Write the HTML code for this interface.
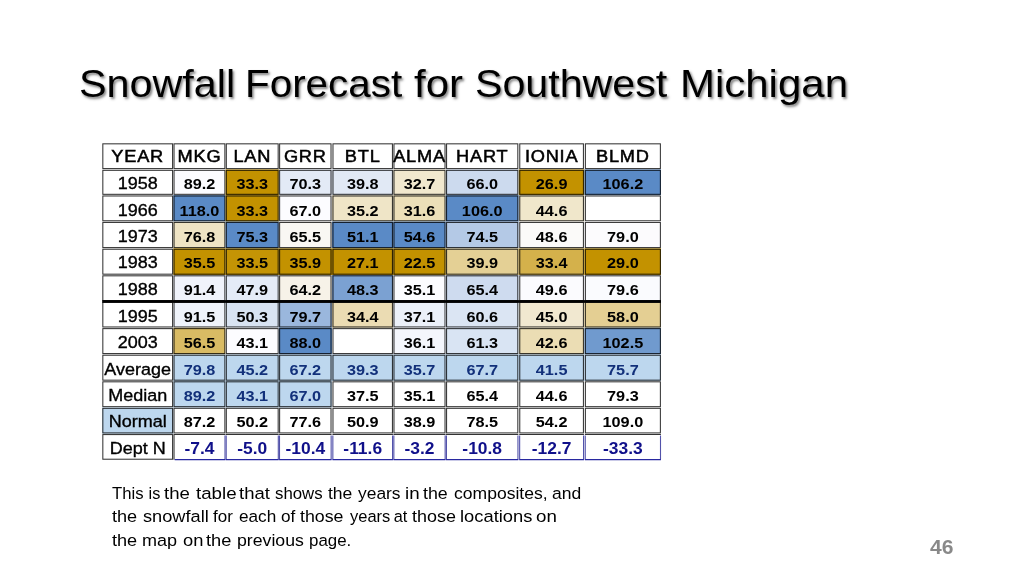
<!DOCTYPE html>
<html lang="en"><head><meta charset="utf-8"><title>Snowfall Forecast for Southwest Michigan</title>
<style>
html,body{margin:0;padding:0;background:#fff;}
body{will-change:transform;width:1024px;height:576px;position:relative;overflow:hidden;font-family:"Liberation Sans",sans-serif;color:#000;}
h1{position:absolute;margin:0;left:0;top:56px;width:1024px;height:56px;font-weight:400;font-size:38.6px;line-height:56px;white-space:nowrap;
   color:#000;text-shadow:1.5px 2px 2.5px rgba(0,0,0,0.5);}
h1 span,p span{position:absolute;top:0;transform-origin:0 50%;}
svg{position:absolute;left:0;top:0;}
svg text{font-family:"Liberation Sans",sans-serif;text-anchor:middle;fill:#000;}
.b{fill:none;stroke:#000;stroke-opacity:.8;stroke-width:1.05;}
.bd{fill:none;stroke:#5252aa;stroke-width:1.1;}
.bb{fill:none;stroke:#2828a0;stroke-width:1.1;}
.h{font-size:17px;letter-spacing:.7px;stroke:#000;stroke-width:.5px;}
.y{font-size:17px;stroke:#000;stroke-width:.35px;}
.d{font-size:15.2px;font-weight:700;}
.n{fill:#12307A;}
.dn{font-size:17px;font-weight:700;fill:#10108A;}
p{position:absolute;margin:0;left:0;width:1024px;height:24px;font-size:16.3px;line-height:24px;white-space:nowrap;color:#000;}
.pg{position:absolute;left:929.5px;top:536.5px;font-size:19.5px;transform:scaleX(1.08);font-weight:700;color:#898989;line-height:20px;transform-origin:0 50%;}
</style></head><body>
<h1><span style="left:78.73px;transform:scaleX(1.071)">Snowfall</span> <span style="left:244.56px;transform:scaleX(1.047)">Forecast</span> <span style="left:413.75px;transform:scaleX(1.088)">for</span> <span style="left:474.53px;transform:scaleX(1.067)">Southwest</span> <span style="left:680.13px;transform:scaleX(1.088)">Michigan</span></h1>
<svg width="1024" height="576" viewBox="0 0 1024 576">
<g>
<rect class="b" x="102.83" y="143.83" width="69.75" height="24.75"/>
<rect class="b" x="174.03" y="143.83" width="50.85" height="24.75"/>
<rect class="b" x="226.32" y="143.83" width="51.85" height="24.75"/>
<rect class="b" x="279.62" y="143.83" width="51.4" height="24.75"/>
<rect class="b" x="332.98" y="143.83" width="59.45" height="24.75"/>
<rect class="b" x="393.97" y="143.83" width="51.05" height="24.75"/>
<rect class="b" x="446.57" y="143.83" width="71.25" height="24.75"/>
<rect class="b" x="519.77" y="143.83" width="63.65" height="24.75"/>
<rect class="b" x="585.38" y="143.83" width="75" height="24.75"/>
</g>
<g>
<rect class="b" x="102.83" y="170.32" width="69.75" height="24"/>
<rect x="173.3" y="169.45" width="52.3" height="25.7" fill="#FCFCFF"/><rect class="b" x="174.03" y="170.32" width="50.85" height="24"/>
<rect x="225.6" y="169.45" width="53.3" height="25.7" fill="#C39200"/><rect class="b" x="226.32" y="170.32" width="51.85" height="24"/>
<rect x="278.9" y="169.45" width="53.1" height="25.7" fill="#E3EAF6"/><rect class="b" x="279.62" y="170.32" width="51.4" height="24"/>
<rect x="332" y="169.45" width="61.2" height="25.7" fill="#E1E9F5"/><rect class="b" x="332.98" y="170.32" width="59.45" height="24"/>
<rect x="393.2" y="169.45" width="52.6" height="25.7" fill="#F1E8CE"/><rect class="b" x="393.97" y="170.32" width="51.05" height="24"/>
<rect x="445.8" y="169.45" width="73" height="25.7" fill="#CCDAEE"/><rect class="b" x="446.57" y="170.32" width="71.25" height="24"/>
<rect x="518.8" y="169.45" width="65.6" height="25.7" fill="#C39200"/><rect class="b" x="519.77" y="170.32" width="63.65" height="24"/>
<rect x="584.4" y="169.45" width="76.6" height="25.7" fill="#5A8AC6"/><rect class="b" x="585.38" y="170.32" width="75" height="24"/>
</g>
<g>
<rect class="b" x="102.83" y="195.98" width="69.75" height="24.8"/>
<rect x="173.3" y="195.15" width="52.3" height="26.45" fill="#5A8AC6"/><rect class="b" x="174.03" y="195.98" width="50.85" height="24.8"/>
<rect x="225.6" y="195.15" width="53.3" height="26.45" fill="#C39200"/><rect class="b" x="226.32" y="195.98" width="51.85" height="24.8"/>
<rect x="278.9" y="195.15" width="53.1" height="26.45" fill="#FCFCFF"/><rect class="b" x="279.62" y="195.98" width="51.4" height="24.8"/>
<rect x="332" y="195.15" width="61.2" height="26.45" fill="#EFE5C7"/><rect class="b" x="332.98" y="195.98" width="59.45" height="24.8"/>
<rect x="393.2" y="195.15" width="52.6" height="26.45" fill="#ECDFB8"/><rect class="b" x="393.97" y="195.98" width="51.05" height="24.8"/>
<rect x="445.8" y="195.15" width="73" height="26.45" fill="#5A8AC6"/><rect class="b" x="446.57" y="195.98" width="71.25" height="24.8"/>
<rect x="518.8" y="195.15" width="65.6" height="26.45" fill="#F0E7CB"/><rect class="b" x="519.77" y="195.98" width="63.65" height="24.8"/>
<rect class="b" x="585.38" y="195.98" width="75" height="24.8"/>
</g>
<g>
<rect class="b" x="102.83" y="222.43" width="69.75" height="25.15"/>
<rect x="173.3" y="221.6" width="52.3" height="26.8" fill="#EFE4C4"/><rect class="b" x="174.03" y="222.43" width="50.85" height="25.15"/>
<rect x="225.6" y="221.6" width="53.3" height="26.8" fill="#5A8AC6"/><rect class="b" x="226.32" y="222.43" width="51.85" height="25.15"/>
<rect x="278.9" y="221.6" width="53.1" height="26.8" fill="#F9F7F3"/><rect class="b" x="279.62" y="222.43" width="51.4" height="25.15"/>
<rect x="332" y="221.6" width="61.2" height="26.8" fill="#5A8AC6"/><rect class="b" x="332.98" y="222.43" width="59.45" height="25.15"/>
<rect x="393.2" y="221.6" width="52.6" height="26.8" fill="#5A8AC6"/><rect class="b" x="393.97" y="222.43" width="51.05" height="25.15"/>
<rect x="445.8" y="221.6" width="73" height="26.8" fill="#B4C9E6"/><rect class="b" x="446.57" y="222.43" width="71.25" height="25.15"/>
<rect x="518.8" y="221.6" width="65.6" height="26.8" fill="#FBFAF9"/><rect class="b" x="519.77" y="222.43" width="63.65" height="25.15"/>
<rect x="584.4" y="221.6" width="76.6" height="26.8" fill="#FCFBFD"/><rect class="b" x="585.38" y="222.43" width="75" height="25.15"/>
</g>
<g>
<rect class="b" x="102.83" y="249.23" width="69.75" height="24.95"/>
<rect x="173.3" y="248.4" width="52.3" height="26.6" fill="#C39200"/><rect class="b" x="174.03" y="249.23" width="50.85" height="24.95"/>
<rect x="225.6" y="248.4" width="53.3" height="26.6" fill="#C49405"/><rect class="b" x="226.32" y="249.23" width="51.85" height="24.95"/>
<rect x="278.9" y="248.4" width="53.1" height="26.6" fill="#C39200"/><rect class="b" x="279.62" y="249.23" width="51.4" height="24.95"/>
<rect x="332" y="248.4" width="61.2" height="26.6" fill="#C39200"/><rect class="b" x="332.98" y="249.23" width="59.45" height="24.95"/>
<rect x="393.2" y="248.4" width="52.6" height="26.6" fill="#C39200"/><rect class="b" x="393.97" y="249.23" width="51.05" height="24.95"/>
<rect x="445.8" y="248.4" width="73" height="26.6" fill="#E4D095"/><rect class="b" x="446.57" y="249.23" width="71.25" height="24.95"/>
<rect x="518.8" y="248.4" width="65.6" height="26.6" fill="#D4B14B"/><rect class="b" x="519.77" y="249.23" width="63.65" height="24.95"/>
<rect x="584.4" y="248.4" width="76.6" height="26.6" fill="#C39200"/><rect class="b" x="585.38" y="249.23" width="75" height="24.95"/>
</g>
<g>
<rect class="b" x="102.83" y="275.82" width="69.75" height="24.75"/>
<rect x="173.3" y="275" width="52.3" height="26.4" fill="#F0F3FB"/><rect class="b" x="174.03" y="275.82" width="50.85" height="24.75"/>
<rect x="225.6" y="275" width="53.3" height="26.4" fill="#E4EBF7"/><rect class="b" x="226.32" y="275.82" width="51.85" height="24.75"/>
<rect x="278.9" y="275" width="53.1" height="26.4" fill="#F7F2E8"/><rect class="b" x="279.62" y="275.82" width="51.4" height="24.75"/>
<rect x="332" y="275" width="61.2" height="26.4" fill="#7BA1D2"/><rect class="b" x="332.98" y="275.82" width="59.45" height="24.75"/>
<rect x="393.2" y="275" width="52.6" height="26.4" fill="#FCFCFF"/><rect class="b" x="393.97" y="275.82" width="51.05" height="24.75"/>
<rect x="445.8" y="275" width="73" height="26.4" fill="#CEDBEF"/><rect class="b" x="446.57" y="275.82" width="71.25" height="24.75"/>
<rect x="518.8" y="275" width="65.6" height="26.4" fill="#FBFBFE"/><rect class="b" x="519.77" y="275.82" width="63.65" height="24.75"/>
<rect x="584.4" y="275" width="76.6" height="26.4" fill="#FAFBFE"/><rect class="b" x="585.38" y="275.82" width="75" height="24.75"/>
</g>
<g>
<rect class="b" x="102.83" y="302.22" width="69.75" height="24.75"/>
<rect x="173.3" y="301.4" width="52.3" height="26.4" fill="#EFF3FA"/><rect class="b" x="174.03" y="302.22" width="50.85" height="24.75"/>
<rect x="225.6" y="301.4" width="53.3" height="26.4" fill="#D8E3F2"/><rect class="b" x="226.32" y="302.22" width="51.85" height="24.75"/>
<rect x="278.9" y="301.4" width="53.1" height="26.4" fill="#9AB7DD"/><rect class="b" x="279.62" y="302.22" width="51.4" height="24.75"/>
<rect x="332" y="301.4" width="61.2" height="26.4" fill="#EBDCB3"/><rect class="b" x="332.98" y="302.22" width="59.45" height="24.75"/>
<rect x="393.2" y="301.4" width="52.6" height="26.4" fill="#EBF0F9"/><rect class="b" x="393.97" y="302.22" width="51.05" height="24.75"/>
<rect x="445.8" y="301.4" width="73" height="26.4" fill="#DBE5F3"/><rect class="b" x="446.57" y="302.22" width="71.25" height="24.75"/>
<rect x="518.8" y="301.4" width="65.6" height="26.4" fill="#F1E8D0"/><rect class="b" x="519.77" y="302.22" width="63.65" height="24.75"/>
<rect x="584.4" y="301.4" width="76.6" height="26.4" fill="#E4CF93"/><rect class="b" x="585.38" y="302.22" width="75" height="24.75"/>
</g>
<g>
<rect class="b" x="102.83" y="328.62" width="69.75" height="24.95"/>
<rect x="173.3" y="327.8" width="52.3" height="26.6" fill="#D9BB64"/><rect class="b" x="174.03" y="328.62" width="50.85" height="24.95"/>
<rect x="225.6" y="327.8" width="53.3" height="26.6" fill="#FCFCFF"/><rect class="b" x="226.32" y="328.62" width="51.85" height="24.95"/>
<rect x="278.9" y="327.8" width="53.1" height="26.6" fill="#5A8AC6"/><rect class="b" x="279.62" y="328.62" width="51.4" height="24.95"/>
<rect class="b" x="332.98" y="328.62" width="59.45" height="24.95"/>
<rect x="393.2" y="327.8" width="52.6" height="26.6" fill="#F4F6FC"/><rect class="b" x="393.97" y="328.62" width="51.05" height="24.95"/>
<rect x="445.8" y="327.8" width="73" height="26.6" fill="#D9E4F3"/><rect class="b" x="446.57" y="328.62" width="71.25" height="24.95"/>
<rect x="518.8" y="327.8" width="65.6" height="26.6" fill="#EBDDB4"/><rect class="b" x="519.77" y="328.62" width="63.65" height="24.95"/>
<rect x="584.4" y="327.8" width="76.6" height="26.6" fill="#709ACE"/><rect class="b" x="585.38" y="328.62" width="75" height="24.95"/>
</g>
<g>
<rect class="b" x="102.83" y="355.22" width="69.75" height="24.95"/>
<rect x="173.3" y="354.4" width="52.3" height="26.6" fill="#BDD7EE"/><rect class="b" x="174.03" y="355.22" width="50.85" height="24.95"/>
<rect x="225.6" y="354.4" width="53.3" height="26.6" fill="#BDD7EE"/><rect class="b" x="226.32" y="355.22" width="51.85" height="24.95"/>
<rect x="278.9" y="354.4" width="53.1" height="26.6" fill="#BDD7EE"/><rect class="b" x="279.62" y="355.22" width="51.4" height="24.95"/>
<rect x="332" y="354.4" width="61.2" height="26.6" fill="#BDD7EE"/><rect class="b" x="332.98" y="355.22" width="59.45" height="24.95"/>
<rect x="393.2" y="354.4" width="52.6" height="26.6" fill="#BDD7EE"/><rect class="b" x="393.97" y="355.22" width="51.05" height="24.95"/>
<rect x="445.8" y="354.4" width="73" height="26.6" fill="#BDD7EE"/><rect class="b" x="446.57" y="355.22" width="71.25" height="24.95"/>
<rect x="518.8" y="354.4" width="65.6" height="26.6" fill="#BDD7EE"/><rect class="b" x="519.77" y="355.22" width="63.65" height="24.95"/>
<rect x="584.4" y="354.4" width="76.6" height="26.6" fill="#BDD7EE"/><rect class="b" x="585.38" y="355.22" width="75" height="24.95"/>
</g>
<g>
<rect class="b" x="102.83" y="381.82" width="69.75" height="24.85"/>
<rect x="173.3" y="381" width="52.3" height="26.5" fill="#BDD7EE"/><rect class="b" x="174.03" y="381.82" width="50.85" height="24.85"/>
<rect x="225.6" y="381" width="53.3" height="26.5" fill="#BDD7EE"/><rect class="b" x="226.32" y="381.82" width="51.85" height="24.85"/>
<rect x="278.9" y="381" width="53.1" height="26.5" fill="#BDD7EE"/><rect class="b" x="279.62" y="381.82" width="51.4" height="24.85"/>
<rect class="b" x="332.98" y="381.82" width="59.45" height="24.85"/>
<rect class="b" x="393.97" y="381.82" width="51.05" height="24.85"/>
<rect class="b" x="446.57" y="381.82" width="71.25" height="24.85"/>
<rect class="b" x="519.77" y="381.82" width="63.65" height="24.85"/>
<rect class="b" x="585.38" y="381.82" width="75" height="24.85"/>
</g>
<g>
<rect x="102.2" y="407.5" width="71.1" height="26.25" fill="#BDD7EE"/><rect class="b" x="102.83" y="408.32" width="69.75" height="24.6"/>
<rect class="b" x="174.03" y="408.32" width="50.85" height="24.6"/>
<rect class="b" x="226.32" y="408.32" width="51.85" height="24.6"/>
<rect class="b" x="279.62" y="408.32" width="51.4" height="24.6"/>
<rect class="b" x="332.98" y="408.32" width="59.45" height="24.6"/>
<rect class="b" x="393.97" y="408.32" width="51.05" height="24.6"/>
<rect class="b" x="446.57" y="408.32" width="71.25" height="24.6"/>
<rect class="b" x="519.77" y="408.32" width="63.65" height="24.6"/>
<rect class="b" x="585.38" y="408.32" width="75" height="24.6"/>
</g>
<g>
<rect class="b" x="102.83" y="434.57" width="69.75" height="24.65"/>
<path class="b" d="M173.5 434.57H225.4M174.03 435.1V459.75"/><path class="bd" d="M225 435.45V459.6"/><path class="bb" d="M174.7 459.6H225.4"/>
<path class="b" d="M225.8 434.57H278.7"/><path class="bd" d="M278.3 435.45V459.6M226.2 435.45V459.6"/><path class="bb" d="M225.8 459.6H278.7"/>
<path class="b" d="M279.1 434.57H331.55"/><path class="bd" d="M331.15 435.45V459.6M279.5 435.45V459.6"/><path class="bb" d="M279.1 459.6H331.55"/>
<path class="b" d="M332.45 434.57H392.95"/><path class="bd" d="M392.55 435.45V459.6M332.85 435.45V459.6"/><path class="bb" d="M332.45 459.6H392.95"/>
<path class="b" d="M393.45 434.57H445.55"/><path class="bd" d="M445.15 435.45V459.6M393.85 435.45V459.6"/><path class="bb" d="M393.45 459.6H445.55"/>
<path class="b" d="M446.05 434.57H518.35"/><path class="bd" d="M517.95 435.45V459.6M446.45 435.45V459.6"/><path class="bb" d="M446.05 459.6H518.35"/>
<path class="b" d="M519.25 434.57H583.95"/><path class="bd" d="M583.55 435.45V459.6M519.65 435.45V459.6"/><path class="bb" d="M519.25 459.6H583.95"/>
<path class="b" d="M584.85 434.57H660.9"/><path class="bd" d="M660.5 435.45V459.6M585.25 435.45V459.6"/><path class="bb" d="M584.85 459.6H660.9"/>
</g>
<rect x="102.2" y="300.1" width="558.8" height="2.75" fill="#000"/>
<g>
<text class="h" transform="translate(137.7 162.3) scale(1.073 1)">YEAR</text>
<text class="h" transform="translate(199.45 162.3) scale(1.073 1)">MKG</text>
<text class="h" transform="translate(252.25 162.3) scale(1.073 1)">LAN</text>
<text class="h" transform="translate(305.32 162.3) scale(1.073 1)">GRR</text>
<text class="h" transform="translate(362.7 162.3) scale(1.073 1)">BTL</text>
<text class="h" transform="translate(419.5 162.3) scale(1.073 1)">ALMA</text>
<text class="h" transform="translate(482.2 162.3) scale(1.073 1)">HART</text>
<text class="h" transform="translate(551.6 162.3) scale(1.073 1)">IONIA</text>
<text class="h" transform="translate(622.88 162.3) scale(1.073 1)">BLMD</text>
<text class="y" transform="translate(137.7 189.1) scale(1.06 1)">1958</text>
<text class="d" transform="translate(199.45 189.1) scale(1.07 1)">89.2</text>
<text class="d" transform="translate(252.25 189.1) scale(1.07 1)">33.3</text>
<text class="d" transform="translate(305.32 189.1) scale(1.07 1)">70.3</text>
<text class="d" transform="translate(362.7 189.1) scale(1.07 1)">39.8</text>
<text class="d" transform="translate(419.5 189.1) scale(1.07 1)">32.7</text>
<text class="d" transform="translate(482.2 189.1) scale(1.07 1)">66.0</text>
<text class="d" transform="translate(551.6 189.1) scale(1.07 1)">26.9</text>
<text class="d" transform="translate(622.88 189.1) scale(1.07 1)">106.2</text>
<text class="y" transform="translate(137.7 215.5) scale(1.06 1)">1966</text>
<text class="d" transform="translate(199.45 215.5) scale(1.07 1)">118.0</text>
<text class="d" transform="translate(252.25 215.5) scale(1.07 1)">33.3</text>
<text class="d" transform="translate(305.32 215.5) scale(1.07 1)">67.0</text>
<text class="d" transform="translate(362.7 215.5) scale(1.07 1)">35.2</text>
<text class="d" transform="translate(419.5 215.5) scale(1.07 1)">31.6</text>
<text class="d" transform="translate(482.2 215.5) scale(1.07 1)">106.0</text>
<text class="d" transform="translate(551.6 215.5) scale(1.07 1)">44.6</text>
<text class="y" transform="translate(137.7 241.5) scale(1.06 1)">1973</text>
<text class="d" transform="translate(199.45 241.5) scale(1.07 1)">76.8</text>
<text class="d" transform="translate(252.25 241.5) scale(1.07 1)">75.3</text>
<text class="d" transform="translate(305.32 241.5) scale(1.07 1)">65.5</text>
<text class="d" transform="translate(362.7 241.5) scale(1.07 1)">51.1</text>
<text class="d" transform="translate(419.5 241.5) scale(1.07 1)">54.6</text>
<text class="d" transform="translate(482.2 241.5) scale(1.07 1)">74.5</text>
<text class="d" transform="translate(551.6 241.5) scale(1.07 1)">48.6</text>
<text class="d" transform="translate(622.88 241.5) scale(1.07 1)">79.0</text>
<text class="y" transform="translate(137.7 267.9) scale(1.06 1)">1983</text>
<text class="d" transform="translate(199.45 267.9) scale(1.07 1)">35.5</text>
<text class="d" transform="translate(252.25 267.9) scale(1.07 1)">33.5</text>
<text class="d" transform="translate(305.32 267.9) scale(1.07 1)">35.9</text>
<text class="d" transform="translate(362.7 267.9) scale(1.07 1)">27.1</text>
<text class="d" transform="translate(419.5 267.9) scale(1.07 1)">22.5</text>
<text class="d" transform="translate(482.2 267.9) scale(1.07 1)">39.9</text>
<text class="d" transform="translate(551.6 267.9) scale(1.07 1)">33.4</text>
<text class="d" transform="translate(622.88 267.9) scale(1.07 1)">29.0</text>
<text class="y" transform="translate(137.7 295) scale(1.06 1)">1988</text>
<text class="d" transform="translate(199.45 295) scale(1.07 1)">91.4</text>
<text class="d" transform="translate(252.25 295) scale(1.07 1)">47.9</text>
<text class="d" transform="translate(305.32 295) scale(1.07 1)">64.2</text>
<text class="d" transform="translate(362.7 295) scale(1.07 1)">48.3</text>
<text class="d" transform="translate(419.5 295) scale(1.07 1)">35.1</text>
<text class="d" transform="translate(482.2 295) scale(1.07 1)">65.4</text>
<text class="d" transform="translate(551.6 295) scale(1.07 1)">49.6</text>
<text class="d" transform="translate(622.88 295) scale(1.07 1)">79.6</text>
<text class="y" transform="translate(137.7 321.7) scale(1.06 1)">1995</text>
<text class="d" transform="translate(199.45 321.7) scale(1.07 1)">91.5</text>
<text class="d" transform="translate(252.25 321.7) scale(1.07 1)">50.3</text>
<text class="d" transform="translate(305.32 321.7) scale(1.07 1)">79.7</text>
<text class="d" transform="translate(362.7 321.7) scale(1.07 1)">34.4</text>
<text class="d" transform="translate(419.5 321.7) scale(1.07 1)">37.1</text>
<text class="d" transform="translate(482.2 321.7) scale(1.07 1)">60.6</text>
<text class="d" transform="translate(551.6 321.7) scale(1.07 1)">45.0</text>
<text class="d" transform="translate(622.88 321.7) scale(1.07 1)">58.0</text>
<text class="y" transform="translate(137.7 348.1) scale(1.06 1)">2003</text>
<text class="d" transform="translate(199.45 348.1) scale(1.07 1)">56.5</text>
<text class="d" transform="translate(252.25 348.1) scale(1.07 1)">43.1</text>
<text class="d" transform="translate(305.32 348.1) scale(1.07 1)">88.0</text>
<text class="d" transform="translate(419.5 348.1) scale(1.07 1)">36.1</text>
<text class="d" transform="translate(482.2 348.1) scale(1.07 1)">61.3</text>
<text class="d" transform="translate(551.6 348.1) scale(1.07 1)">42.6</text>
<text class="d" transform="translate(622.88 348.1) scale(1.07 1)">102.5</text>
<text class="y" transform="translate(137.7 374.5) scale(1.06 1)">Average</text>
<text class="d n" transform="translate(199.45 374.5) scale(1.07 1)">79.8</text>
<text class="d n" transform="translate(252.25 374.5) scale(1.07 1)">45.2</text>
<text class="d n" transform="translate(305.32 374.5) scale(1.07 1)">67.2</text>
<text class="d n" transform="translate(362.7 374.5) scale(1.07 1)">39.3</text>
<text class="d n" transform="translate(419.5 374.5) scale(1.07 1)">35.7</text>
<text class="d n" transform="translate(482.2 374.5) scale(1.07 1)">67.7</text>
<text class="d n" transform="translate(551.6 374.5) scale(1.07 1)">41.5</text>
<text class="d n" transform="translate(622.88 374.5) scale(1.07 1)">75.7</text>
<text class="y" transform="translate(137.7 400.9) scale(1.06 1)">Median</text>
<text class="d n" transform="translate(199.45 400.9) scale(1.07 1)">89.2</text>
<text class="d n" transform="translate(252.25 400.9) scale(1.07 1)">43.1</text>
<text class="d n" transform="translate(305.32 400.9) scale(1.07 1)">67.0</text>
<text class="d" transform="translate(362.7 400.9) scale(1.07 1)">37.5</text>
<text class="d" transform="translate(419.5 400.9) scale(1.07 1)">35.1</text>
<text class="d" transform="translate(482.2 400.9) scale(1.07 1)">65.4</text>
<text class="d" transform="translate(551.6 400.9) scale(1.07 1)">44.6</text>
<text class="d" transform="translate(622.88 400.9) scale(1.07 1)">79.3</text>
<text class="y" transform="translate(137.7 427.3) scale(1.06 1)">Normal</text>
<text class="d" transform="translate(199.45 427.3) scale(1.07 1)">87.2</text>
<text class="d" transform="translate(252.25 427.3) scale(1.07 1)">50.2</text>
<text class="d" transform="translate(305.32 427.3) scale(1.07 1)">77.6</text>
<text class="d" transform="translate(362.7 427.3) scale(1.07 1)">50.9</text>
<text class="d" transform="translate(419.5 427.3) scale(1.07 1)">38.9</text>
<text class="d" transform="translate(482.2 427.3) scale(1.07 1)">78.5</text>
<text class="d" transform="translate(551.6 427.3) scale(1.07 1)">54.2</text>
<text class="d" transform="translate(622.88 427.3) scale(1.07 1)">109.0</text>
<text class="y" transform="translate(137.7 454.3) scale(1.06 1)">Dept N</text>
<text class="dn" transform="translate(199.45 454.3) scale(1.025 1)">-7.4</text>
<text class="dn" transform="translate(252.25 454.3) scale(1.025 1)">-5.0</text>
<text class="dn" transform="translate(305.32 454.3) scale(1.025 1)">-10.4</text>
<text class="dn" transform="translate(362.7 454.3) scale(1.025 1)">-11.6</text>
<text class="dn" transform="translate(419.5 454.3) scale(1.025 1)">-3.2</text>
<text class="dn" transform="translate(482.2 454.3) scale(1.025 1)">-10.8</text>
<text class="dn" transform="translate(551.6 454.3) scale(1.025 1)">-12.7</text>
<text class="dn" transform="translate(622.88 454.3) scale(1.025 1)">-33.3</text>
</g>
</svg>
<p style="top:481.3px"><span style="left:112.2px;transform:scaleX(1.026)">This</span> <span style="left:148.54px;transform:scaleX(1.0)">is</span> <span style="left:164.2px;transform:scaleX(1.143)">the</span> <span style="left:195.53px;transform:scaleX(1.15)">table</span> <span style="left:238.8px;transform:scaleX(1.136)">that</span> <span style="left:274.9px;transform:scaleX(1.032)">shows</span> <span style="left:328px;transform:scaleX(1.076)">the</span> <span style="left:358.3px;transform:scaleX(1.069)">years</span> <span style="left:405px;transform:scaleX(1.15)">in</span> <span style="left:422.5px;transform:scaleX(1.094)">the</span> <span style="left:454px;transform:scaleX(1.077)">composites,</span> <span style="left:551.9px;transform:scaleX(1.076)">and</span></p>
<p style="top:504.45px"><span style="left:112.2px;transform:scaleX(1.112)">the</span> <span style="left:143.2px;transform:scaleX(1.118)">snowfall</span> <span style="left:213px;transform:scaleX(1.042)">for</span> <span style="left:238.8px;transform:scaleX(1.054)">each</span> <span style="left:280.7px;transform:scaleX(1.053)">of</span> <span style="left:300.2px;transform:scaleX(1.091)">those</span> <span style="left:349.5px;transform:scaleX(1.013)">years</span> <span style="left:393.67px;transform:scaleX(1.0)">at</span> <span style="left:411.6px;transform:scaleX(1.101)">those</span> <span style="left:459.67px;transform:scaleX(1.126)">locations</span> <span style="left:536.04px;transform:scaleX(1.15)">on</span></p>
<p style="top:527.6px"><span style="left:112.2px;transform:scaleX(1.112)">the</span> <span style="left:142.09px;transform:scaleX(1.107)">map</span> <span style="left:182.5px;transform:scaleX(1.126)">on</span> <span style="left:206.4px;transform:scaleX(1.121)">the</span> <span style="left:237.01px;transform:scaleX(1.086)">previous</span> <span style="left:308.56px;transform:scaleX(1.036)">page.</span></p>
<div class="pg">46</div>
</body></html>
